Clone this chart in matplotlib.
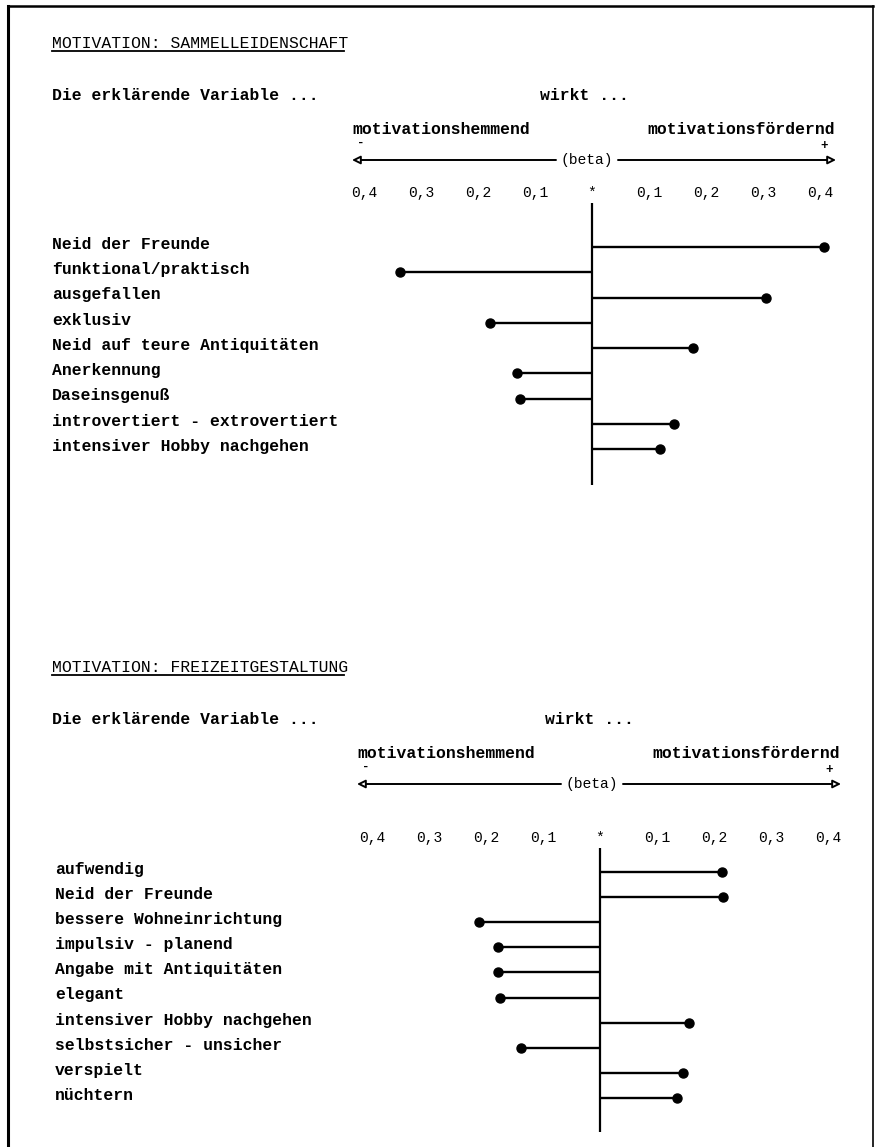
import matplotlib
matplotlib.use("Agg")
import matplotlib.pyplot as plt
from matplotlib.lines import Line2D

# Daten (beta-Werte)
top_title = "MOTIVATION: SAMMELLEIDENSCHAFT"
top_labels = ["Neid der Freunde", "funktional/praktisch", "ausgefallen", "exklusiv",
              "Neid auf teure Antiquitäten", "Anerkennung", "Daseinsgenuß",
              "introvertiert - extrovertiert", "intensiver Hobby nachgehen"]
top_beta = [0.407, -0.336, 0.306, -0.179, 0.177, -0.131, -0.127, 0.143, 0.120]

bottom_title = "MOTIVATION: FREIZEITGESTALTUNG"
bottom_labels = ["aufwendig", "Neid der Freunde", "bessere Wohneinrichtung",
                 "impulsiv - planend", "Angabe mit Antiquitäten", "elegant",
                 "intensiver Hobby nachgehen", "selbstsicher - unsicher",
                 "verspielt", "nüchtern"]
bottom_beta = [0.214, 0.216, -0.212, -0.179, -0.179, -0.175, 0.156, -0.139, 0.146, 0.135]

tick_vals = [-0.4, -0.3, -0.2, -0.1, 0.0, 0.1, 0.2, 0.3, 0.4]
tick_text = ["0,4", "0,3", "0,2", "0,1", "*", "0,1", "0,2", "0,3", "0,4"]

W, H = 877, 1147
FONT = "Liberation Mono"
FS = 11.8
fig = plt.figure(figsize=(W / 100, H / 100), dpi=100)
fig.patch.set_facecolor("white")
# unsichtbare Achse über die ganze Seite, für Kopfzeilen und Pfeile
bg = fig.add_axes([0, 0, 1, 1])
bg.set_xlim(0, W)
bg.set_ylim(H, 0)
bg.axis("off")


def ftext(x, y, s, **kw):
    kw.setdefault("fontsize", FS)
    kw.setdefault("family", FONT)
    kw.setdefault("weight", "bold")
    kw.setdefault("va", "center")
    bg.text(x, y, s, **kw)


def fline(x0, y0, x1, y1, lw=1.5):
    bg.add_line(Line2D([x0, x1], [y0, y1], color="black", lw=lw))


def panel(title, labels, beta, y_title, zero_px, top_px, bot_px, row0, step, lab_x, shift):
    # Kopfzeilen
    ftext(52, y_title, title, weight="normal", fontsize=11.8)
    fline(52, y_title + 8, 50 + len(title) * 9.8, y_title + 8, lw=1.3)
    ftext(52, y_title + 52, "Die erklärende Variable ...")
    ftext(540 + shift, y_title + 52, "wirkt ...")
    ftext(352 + shift, y_title + 86, "motivationshemmend")
    ftext(835 + shift, y_title + 86, "motivationsfördernd", ha="right")
    ftext(357 + shift, y_title + 100, "-", fontsize=9)
    ftext(820 + shift, y_title + 103, "+", fontsize=9)
    ya = y_title + 117
    for xa, xb in [(556, 352), (618, 836)]:
        bg.annotate("", xy=(xb + shift, ya), xytext=(xa + shift, ya),
                    arrowprops=dict(arrowstyle="-|>", fc="white", ec="black",
                                    lw=1.4, mutation_scale=12, shrinkA=0, shrinkB=0))
    ftext(587 + shift, ya, "(beta)", ha="center", weight="normal", fontsize=10.5)

    # Diagramm
    l, r = 330, 850
    ax = fig.add_axes([l / W, 1 - bot_px / H, (r - l) / W, (bot_px - top_px) / H])
    ax.patch.set_alpha(0)
    ax.set_xlim(-(zero_px - l) / 570, (r - zero_px) / 570)
    ax.set_ylim((bot_px - row0) / step, -(row0 - top_px) / step)
    rows = list(range(len(labels)))
    ax.axvline(0, color="black", lw=1.6)
    ax.hlines(rows, 0, beta, color="black", lw=1.7)
    ax.plot(beta, rows, "o", color="black", ms=6.5)
    ax.xaxis.tick_top()
    ax.set_xticks(tick_vals, tick_text)
    ax.tick_params(axis="x", length=0, pad=2, labelsize=10.5)
    for t in ax.get_xticklabels():
        t.set_family(FONT)
    ax.set_yticks([])
    for s in ax.spines.values():
        s.set_visible(False)
    tr = matplotlib.transforms.blended_transform_factory(fig.transFigure, ax.transData)
    for i, lab in enumerate(labels):
        ax.text(lab_x / W, i - 0.1, lab, transform=tr, fontsize=FS, family=FONT,
                weight="bold", va="center", ha="left")
    return ax


panel(top_title, top_labels, top_beta, 43, 592, 203, 485, 247, 25.25, 52, 0)
panel(bottom_title, bottom_labels, bottom_beta, 667, 600, 848, 1132, 872, 25.1, 55, 5)

# Rahmen
fline(8, 6, 873, 6, lw=1.8)
fline(8, 6, 8, 1147, lw=2.2)
fline(873, 6, 873, 1147, lw=1.2)

fig.savefig("out.png", dpi=100)
